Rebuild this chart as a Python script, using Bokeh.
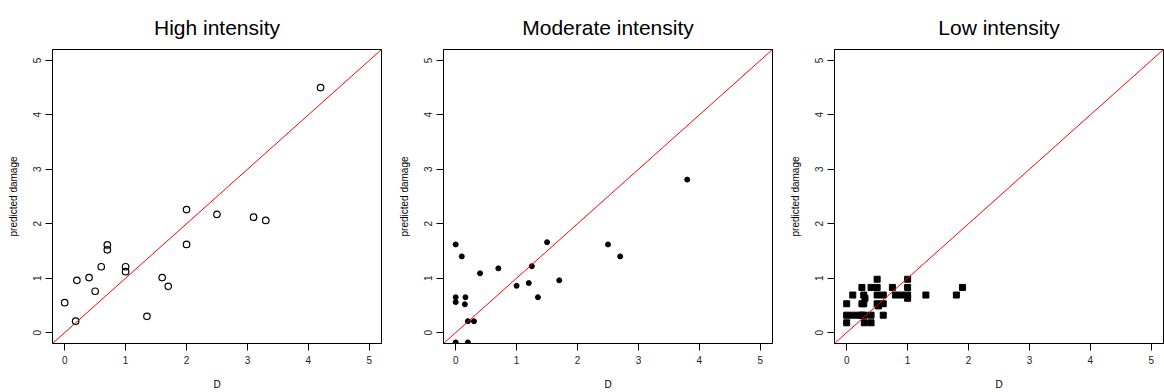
from bokeh.plotting import figure
from bokeh.layouts import row
from bokeh.models import Range1d, FixedTicker, Slope
from bokeh.embed import file_html
from bokeh.resources import INLINE

titles = ["High intensity", "Moderate intensity", "Low intensity"]

high_D = [0.0, 0.18, 0.2, 0.4, 0.5, 0.6, 0.7, 0.7, 1.0, 1.0, 1.35, 1.6, 1.7, 2.0, 2.0, 2.5, 3.1, 3.3, 4.2]
high_pred = [0.55, 0.21, 0.96, 1.01, 0.76, 1.21, 1.61, 1.52, 1.21, 1.12, 0.30, 1.01, 0.85, 2.26, 1.62, 2.17, 2.12, 2.06, 4.50]

mod_D = [0.0, 0.1, 0.0, 0.0, 0.16, 0.15, 0.2, 0.3, 0.0, 0.2, 0.4, 0.7, 1.0, 1.2, 1.25, 1.35, 1.5, 1.7, 2.5, 2.7, 3.8]
mod_pred = [1.62, 1.40, 0.65, 0.56, 0.65, 0.52, 0.21, 0.21, -0.18, -0.18, 1.09, 1.18, 0.86, 0.91, 1.22, 0.65, 1.66, 0.96, 1.62, 1.40, 2.81]

low_D = [0.0, 0.0, 0.0, 0.1, 0.1, 0.2, 0.25, 0.25, 0.25, 0.28, 0.28, 0.29, 0.29, 0.3,
         0.4, 0.4, 0.4, 0.5, 0.5, 0.5, 0.5, 0.52, 0.6, 0.6, 0.6, 0.75, 0.8, 0.9,
         1.0, 1.0, 1.0, 1.0, 1.3, 1.8, 1.9]
low_pred = [0.18, 0.32, 0.53, 0.32, 0.69, 0.32, 0.32, 0.53, 0.83, 0.69, 0.53, 0.32, 0.18, 0.63,
            0.18, 0.32, 0.83, 0.98, 0.83, 0.69, 0.53, 0.49, 0.69, 0.53, 0.32, 0.83, 0.69, 0.69,
            0.98, 0.83, 0.69, 0.63, 0.69, 0.69, 0.83]

ticks = [0, 1, 2, 3, 4, 5]
FONT = "Liberation Sans"


def make_panel(title, xs, ys, marker, size, filled, width, right_border):
    p = figure(width=width, height=392, output_backend="svg", toolbar_location=None,
               x_range=Range1d(-0.2, 5.2), y_range=Range1d(-0.2, 5.2),
               min_border_left=52, min_border_right=right_border,
               min_border_top=49, min_border_bottom=47)
    p.title.text = title
    p.title.align = "center"
    p.title.text_font = FONT
    p.title.text_font_size = "21px"
    p.title.text_font_style = "normal"
    p.title.text_color = "black"
    p.title.standoff = 22
    p.grid.visible = False
    p.outline_line_color = "black"
    p.outline_line_width = 1
    p.outline_line_alpha = 1
    p.background_fill_color = "white"
    p.border_fill_color = "white"
    for ax in (p.xaxis[0], p.yaxis[0]):
        ax.ticker = FixedTicker(ticks=ticks)
        ax.minor_tick_line_color = None
        ax.major_tick_in = 0
        ax.major_tick_out = 7
        ax.axis_line_color = "black"
        ax.major_tick_line_color = "black"
        ax.major_label_text_font = FONT
        ax.major_label_text_font_size = "10px"
        ax.major_label_text_color = "#222222"
        ax.axis_label_text_font = FONT
        ax.axis_label_text_font_size = "10px"
        ax.axis_label_text_font_style = "normal"
        ax.axis_label_text_color = "black"
    p.xaxis.axis_label = "D"
    p.yaxis.axis_label = "predicted damage"
    p.xaxis.major_label_standoff = 5
    p.xaxis.axis_label_standoff = 12
    p.yaxis.major_label_orientation = "vertical"
    p.yaxis.major_label_standoff = 4
    p.yaxis.axis_label_standoff = 12
    p.add_layout(Slope(gradient=1, y_intercept=0, line_color="red", line_width=1))
    if filled:
        p.scatter(xs, ys, marker=marker, size=size, fill_color="black", line_color="black")
    else:
        p.scatter(xs, ys, marker=marker, size=size, fill_color=None, line_color="black", line_width=1.2)
    return p


p1 = make_panel(titles[0], high_D, high_pred, "circle", 6.5, False, 391, 10)
p2 = make_panel(titles[1], mod_D, mod_pred, "circle", 5, True, 391, 10)
p3 = make_panel(titles[2], low_D, low_pred, "square", 6, True, 382, 1)

p = row(p1, p2, p3)
open("out.html", "w").write(file_html(p, INLINE))
